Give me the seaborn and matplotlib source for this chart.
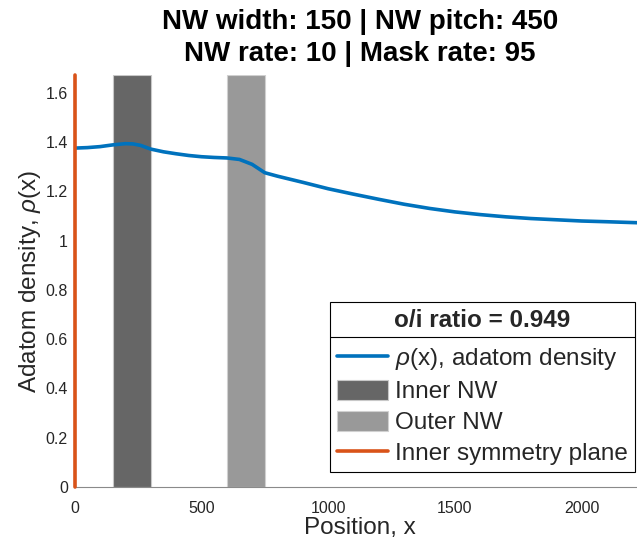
import numpy as np
import pandas as pd
import matplotlib
matplotlib.use("Agg")
import matplotlib.pyplot as plt
from matplotlib.lines import Line2D
from matplotlib.patches import Patch
import seaborn as sns

# Adatom density profile along the substrate
position = [0, 50, 100, 150, 200, 230, 260, 300, 350, 400, 450, 500, 550, 600,
            650, 700, 750, 800, 900, 1000, 1100, 1200, 1300, 1400, 1500, 1600,
            1700, 1800, 1900, 2000, 2100, 2250]
density = [1.376, 1.378, 1.382, 1.389, 1.394, 1.393, 1.387, 1.372, 1.361, 1.353,
           1.346, 1.341, 1.338, 1.336, 1.330, 1.310, 1.276, 1.262, 1.237, 1.211,
           1.189, 1.168, 1.148, 1.131, 1.117, 1.106, 1.097, 1.090, 1.085, 1.080,
           1.077, 1.072]

# Nanowire geometry
nw_width = 150
nw_pitch = 450
inner_nw_start = 150
outer_nw_start = inner_nw_start + nw_pitch
nw_rate = 10
mask_rate = 95
oi_ratio = 0.949

x_ticks = [0, 500, 1000, 1500, 2000]
y_ticks = [0, 0.2, 0.4, 0.6, 0.8, 1.0, 1.2, 1.4, 1.6]
y_tick_labels = ["0", "0.2", "0.4", "0.6", "0.8", "1", "1.2", "1.4", "1.6"]

BLUE = "#0072BD"
ORANGE = "#D95319"
INNER_GREY = "#666666"
OUTER_GREY = "#999999"
TXT = "#262626"

sns.set_theme(style="white")
plt.rcParams["font.family"] = ["Liberation Sans", "DejaVu Sans"]
plt.rcParams["mathtext.fontset"] = "custom"
plt.rcParams["mathtext.it"] = "Liberation Sans:italic"
plt.rcParams["mathtext.rm"] = "Liberation Sans"

W, H = 637, 552
fig = plt.figure(figsize=(W / 100, H / 100), dpi=100)
ax_left, ax_right, ax_top, ax_bottom = 74.7, 645.0, 75.0, 487.0
ax = fig.add_axes([ax_left / W, 1 - ax_bottom / H,
                   (ax_right - ax_left) / W, (ax_bottom - ax_top) / H])

y_top = 1.2 * max(density)

# Nanowire bands
ax.bar([inner_nw_start], [y_top], width=nw_width, align="edge",
       color=INNER_GREY, edgecolor="#c8c8c8", linewidth=0.8, zorder=1)
ax.bar([outer_nw_start], [y_top], width=nw_width, align="edge",
       color=OUTER_GREY, edgecolor="#d0d0d0", linewidth=0.8, zorder=1)

# Density curve
df = pd.DataFrame({"Position": position, "Density": density})
sns.lineplot(data=df, x="Position", y="Density", ax=ax, color=BLUE,
             linewidth=2.6, zorder=3)

# Inner symmetry plane
ax.plot([0, 0], [0, y_top], color=ORANGE, linewidth=2.6, clip_on=False, zorder=4)

ax.set_xlim(0, 2250)
ax.set_ylim(0, y_top)
ax.set_xticks(x_ticks)
ax.set_xticklabels([str(v) for v in x_ticks])
ax.set_yticks(y_ticks)
ax.set_yticklabels(y_tick_labels)
ax.tick_params(direction="in", length=4, width=0.6, color="#808080",
               labelsize=11.5, labelcolor=TXT)
ax.tick_params(axis="x", pad=10)
ax.tick_params(axis="y", pad=5)

for side in ("top", "right"):
    ax.spines[side].set_visible(False)
for side in ("left", "bottom"):
    ax.spines[side].set_color("#8a8a8a")
    ax.spines[side].set_linewidth(0.8)

ax.set_xlabel("Position, x", fontsize=17.5, color=TXT, labelpad=1)
ax.set_ylabel(r"Adatom density, $\rho$(x)", fontsize=17.5, color=TXT, labelpad=2)

cx = ((ax_left + ax_right) / 2) / W
fig.text(cx, 1 - 22 / H, f"NW width: {nw_width} | NW pitch: {nw_pitch}",
         ha="center", va="center", fontsize=20, fontweight="bold", color="black")
fig.text(cx, 1 - 54 / H, f"NW rate: {nw_rate} | Mask rate: {mask_rate}",
         ha="center", va="center", fontsize=20, fontweight="bold", color="black")

handles = [
    Line2D([0], [0], color=BLUE, linewidth=2.6),
    Patch(facecolor=INNER_GREY, edgecolor="#c8c8c8", linewidth=0.8),
    Patch(facecolor=OUTER_GREY, edgecolor="#d0d0d0", linewidth=0.8),
    Line2D([0], [0], color=ORANGE, linewidth=2.6),
]
labels = [r"$\rho$(x), adatom density", "Inner NW", "Outer NW",
          "Inner symmetry plane"]
ax_w = ax_right - ax_left
ax_h = ax_bottom - ax_top
leg = ax.legend(handles, labels, loc="lower right",
                bbox_to_anchor=((635 - ax_left) / ax_w, (ax_bottom - 472.3) / ax_h),
                borderaxespad=0, fontsize=17.5, title=f"o/i ratio = {oi_ratio}",
                title_fontproperties={"size": 17.5, "weight": "bold"},
                fancybox=False, framealpha=1, edgecolor="black",
                handlelength=2.1, handleheight=0.9, handletextpad=0.3,
                labelspacing=0.31, borderpad=0.28)
leg.get_frame().set_linewidth(0.8)
# wider gap between the title row and the entries
leg._legend_box.sep = 0.6 * 17.5
for t in leg.get_texts():
    t.set_color(TXT)

# Separator under the legend title
fig.canvas.draw()
renderer = fig.canvas.get_renderer()
fb = leg.get_frame().get_window_extent(renderer)
tb = leg.get_title().get_window_extent(renderer)
first = leg.get_texts()[0].get_window_extent(renderer)
sep_y = (tb.y0 + first.y1) / 2 + 2
fig.add_artist(Line2D([fb.x0 / W, fb.x1 / W], [sep_y / H, sep_y / H],
                      transform=fig.transFigure, color="black", linewidth=0.8))

fig.savefig("out.png", dpi=100)
